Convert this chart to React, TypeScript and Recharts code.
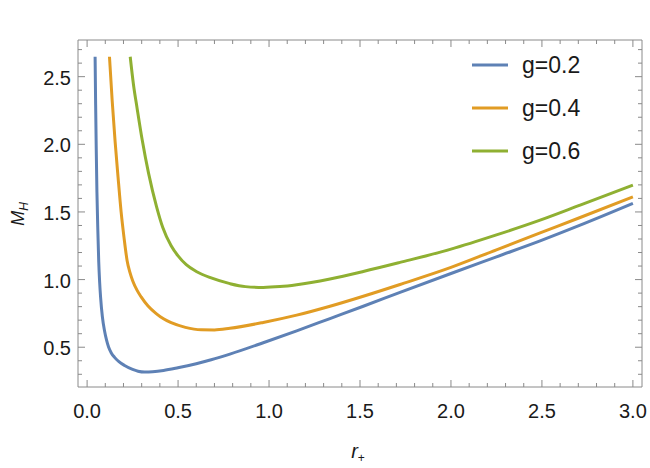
import React from 'react'
import { LineChart, Line, XAxis, YAxis } from 'recharts'

// series: horizon radius r+ and mass M_H, one pair of arrays per g
const seriesNames = ['g=0.2', 'g=0.4', 'g=0.6']
const seriesColors = ['#5E81B5', '#E19C24', '#8FB032']

const rG02 = [0.044, 0.047, 0.05, 0.054, 0.059, 0.064, 0.069, 0.074, 0.084, 0.096, 0.107, 0.118, 0.133, 0.151, 0.175, 0.206, 0.25, 0.28, 0.316, 0.36, 0.42, 0.499, 0.6, 0.682, 0.785, 0.968, 1.152, 1.335, 1.518, 1.72, 2.0, 2.25, 2.49, 2.71, 3.0]
const mG02 = [2.647, 2.29, 1.99, 1.65, 1.365, 1.13, 0.98, 0.872, 0.725, 0.62, 0.553, 0.502, 0.458, 0.425, 0.393, 0.365, 0.336, 0.323, 0.317, 0.319, 0.328, 0.348, 0.378, 0.407, 0.449, 0.533, 0.621, 0.712, 0.803, 0.905, 1.045, 1.168, 1.286, 1.402, 1.563]

const rG04 = [0.123, 0.138, 0.154, 0.17, 0.187, 0.203, 0.22, 0.235, 0.251, 0.275, 0.297, 0.335, 0.38, 0.42, 0.462, 0.54, 0.627, 0.7, 0.785, 0.968, 1.152, 1.335, 1.518, 1.72, 2.0, 2.25, 2.49, 2.71, 3.0]
const mG04 = [2.647, 2.32, 2.02, 1.76, 1.5, 1.31, 1.14, 1.055, 0.99, 0.92, 0.872, 0.805, 0.749, 0.71, 0.681, 0.647, 0.629, 0.628, 0.64, 0.683, 0.737, 0.803, 0.877, 0.964, 1.09, 1.22, 1.345, 1.459, 1.612]

const rG06 = [0.237, 0.255, 0.275, 0.303, 0.338, 0.382, 0.416, 0.462, 0.5, 0.545, 0.6, 0.682, 0.785, 0.87, 0.968, 1.06, 1.152, 1.335, 1.518, 1.72, 2.0, 2.25, 2.49, 2.71, 3.0]
const mG06 = [2.647, 2.44, 2.265, 2.031, 1.785, 1.538, 1.385, 1.25, 1.175, 1.11, 1.06, 1.012, 0.97, 0.948, 0.942, 0.948, 0.962, 1.005, 1.06, 1.127, 1.225, 1.33, 1.439, 1.55, 1.698]

const xMajor = [0, 0.5, 1, 1.5, 2, 2.5, 3]
const yMajor = [0.5, 1, 1.5, 2, 2.5]
const xTicks = Array.from({ length: 31 }, (_, i) => i / 10)
const yTicks = Array.from({ length: 25 }, (_, i) => (i + 3) / 10)

const series = [
  { name: seriesNames[0], color: seriesColors[0], data: rG02.map((r, i) => ({ r, m: mG02[i] })) },
  { name: seriesNames[1], color: seriesColors[1], data: rG04.map((r, i) => ({ r, m: mG04[i] })) },
  { name: seriesNames[2], color: seriesColors[2], data: rG06.map((r, i) => ({ r, m: mG06[i] })) },
]

const frame = '#8a8a8a'
const font = '"Liberation Sans", Arial, sans-serif'
const isMajor = (v: number, majors: number[]) => majors.some((m) => Math.abs(m - v) < 1e-6)

const BottomTick = (props: any) => {
  const { x, y, payload } = props
  const major = isMajor(payload.value, xMajor)
  return (
    <g>
      <line x1={x} x2={x} y1={y} y2={y - (major ? 7 : 4)} stroke={frame} />
      {major && (
        <text x={x} y={y + 31} textAnchor="middle" fontSize={20} fontFamily={font} fill="#1a1a1a">
          {payload.value.toFixed(1)}
        </text>
      )}
    </g>
  )
}

const TopTick = (props: any) => {
  const { x, y, payload } = props
  const major = isMajor(payload.value, xMajor)
  return <line x1={x} x2={x} y1={y} y2={y + (major ? 7 : 4)} stroke={frame} />
}

const LeftTick = (props: any) => {
  const { x, y, payload } = props
  const major = isMajor(payload.value, yMajor)
  return (
    <g>
      <line x1={x} x2={x + (major ? 7 : 4)} y1={y} y2={y} stroke={frame} />
      {major && (
        <text x={x - 7} y={y + 8} textAnchor="end" fontSize={20} fontFamily={font} fill="#1a1a1a">
          {payload.value.toFixed(1)}
        </text>
      )}
    </g>
  )
}

const RightTick = (props: any) => {
  const { x, y, payload } = props
  const major = isMajor(payload.value, yMajor)
  return <line x1={x} x2={x - (major ? 7 : 4)} y1={y} y2={y} stroke={frame} />
}

export default function App(): React.JSX.Element {
  return (
    <div style={{ position: 'absolute', left: 0, top: 0, width: 650, height: 468, background: '#fff' }}>
      <LineChart width={650} height={468} margin={{ top: 39, right: 7, bottom: 0, left: 0 }}>
        <XAxis
          dataKey="r"
          type="number"
          domain={[-0.05, 3.05]}
          allowDataOverflow
          ticks={xTicks}
          interval={0}
          height={81}
          tickSize={0}
          tickMargin={0}
          tick={BottomTick}
          axisLine={{ stroke: frame }}
        />
        <XAxis
          xAxisId="top"
          orientation="top"
          dataKey="r"
          type="number"
          domain={[-0.05, 3.05]}
          allowDataOverflow
          ticks={xTicks}
          interval={0}
          height={1}
          tickSize={0}
          tickMargin={0}
          tick={TopTick}
          axisLine={{ stroke: frame }}
        />
        <YAxis
          type="number"
          domain={[0.206, 2.771]}
          allowDataOverflow
          ticks={yTicks}
          interval={0}
          width={78}
          tickSize={0}
          tickMargin={0}
          tick={LeftTick}
          axisLine={{ stroke: frame }}
        />
        <YAxis
          yAxisId="right"
          orientation="right"
          type="number"
          domain={[0.206, 2.771]}
          allowDataOverflow
          ticks={yTicks}
          interval={0}
          width={1}
          tickSize={0}
          tickMargin={0}
          tick={RightTick}
          axisLine={{ stroke: frame }}
        />
        {series.map((s) => (
          <Line
            key={s.name}
            data={s.data}
            dataKey="m"
            name={s.name}
            type="monotone"
            stroke={s.color}
            strokeWidth={3}
            dot={false}
            activeDot={false}
            isAnimationActive={false}
          />
        ))}
      </LineChart>
      <svg width={650} height={468} style={{ position: 'absolute', left: 0, top: 0, pointerEvents: 'none' }}>
        <text transform="translate(24, 214) rotate(-90)" textAnchor="middle" fontFamily={font} fill="#1a1a1a">
          <tspan fontSize={18} fontStyle="italic">M</tspan>
          <tspan fontSize={12} fontStyle="italic" dy={4}>H</tspan>
        </text>
        <text x={358} y={458} textAnchor="middle" fontFamily={font} fill="#1a1a1a">
          <tspan fontSize={20} fontStyle="italic">r</tspan>
          <tspan fontSize={12} dy={4}>+</tspan>
        </text>
        {series.map((s, i) => (
          <g key={s.name}>
            <line x1={472} x2={508} y1={65 + i * 43} y2={65 + i * 43} stroke={s.color} strokeWidth={3} />
            <text x={522} y={65 + i * 43 + 8} fontSize={23} fontFamily={font} fill="#1a1a1a">
              {s.name}
            </text>
          </g>
        ))}
      </svg>
    </div>
  )
}
